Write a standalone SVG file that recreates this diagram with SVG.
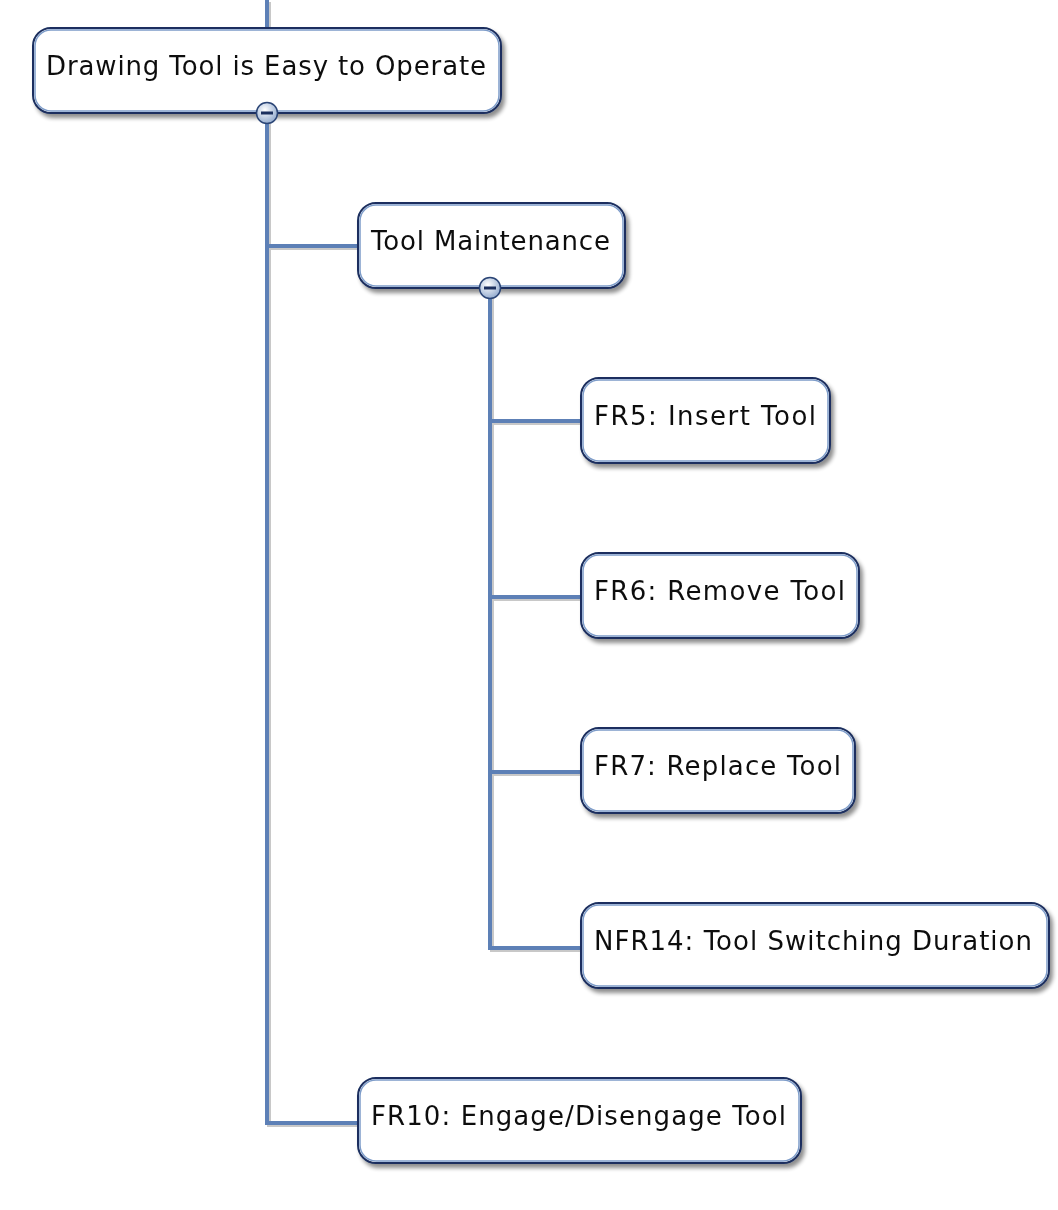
<svg xmlns="http://www.w3.org/2000/svg" width="1058" height="1210" viewBox="0 0 1058 1210">
<defs>
<filter id="sh" x="-10%" y="-20%" width="125%" height="150%">
<feGaussianBlur in="SourceAlpha" stdDeviation="2"/>
<feOffset dx="3" dy="4" result="b"/>
<feComponentTransfer><feFuncA type="linear" slope="0.45"/></feComponentTransfer>
<feMerge><feMergeNode/><feMergeNode in="SourceGraphic"/></feMerge>
</filter>
<radialGradient id="btn" cx="0.4" cy="0.35" r="0.7">
<stop offset="0" stop-color="#ffffff"/>
<stop offset="1" stop-color="#8ea7cc"/>
</radialGradient>
</defs>
<style>
.box{fill:#ffffff;stroke:#1b2f5e;stroke-width:2;}
.rim{fill:none;stroke:#7d9cc9;stroke-width:1.5;}
.t{font-family:"DejaVu Sans",Verdana,sans-serif;font-size:26px;fill:#111111;}
.ln{fill:none;stroke:#5d80b6;stroke-width:4;}
.lns{fill:none;stroke:#c8c8c8;stroke-width:4;}
.b{fill:url(#btn);stroke:#2a4475;stroke-width:1.5;}
.bm{stroke:#1b2f5e;stroke-width:3;}
</style>
<g id="connectors">
<g transform="translate(2,2)" class="lns">
<path d="M267 0V28M267 113V1123H358M267 246H358M490 288V948H581M490 421H581M490 597H581M490 772H581"/>
</g>
<path class="ln" d="M267 0V28M267 113V1123H358M267 246H358M490 288V948H581M490 421H581M490 597H581M490 772H581"/>
</g>
<g id="node-root" filter="url(#sh)">
<rect class="box" x="33" y="28" width="468" height="85" rx="18"/>
<rect class="rim" x="35" y="30" width="464" height="81" rx="16"/>
<text class="t" x="46" y="75" textLength="440" lengthAdjust="spacing">Drawing Tool is Easy to Operate</text>
</g>
<g id="btn-root"><circle class="b" cx="267" cy="113" r="10.5"/><line class="bm" x1="261" y1="113" x2="273" y2="113"/></g>
<g id="node-maint" filter="url(#sh)">
<rect class="box" x="358" y="203" width="267" height="85" rx="18"/>
<rect class="rim" x="360" y="205" width="263" height="81" rx="16"/>
<text class="t" x="371" y="250" textLength="239" lengthAdjust="spacing">Tool Maintenance</text>
</g>
<g id="btn-maint"><circle class="b" cx="490" cy="288" r="10.5"/><line class="bm" x1="484" y1="288" x2="496" y2="288"/></g>
<g id="node-fr5" filter="url(#sh)">
<rect class="box" x="581" y="378" width="249" height="85" rx="18"/>
<rect class="rim" x="583" y="380" width="245" height="81" rx="16"/>
<text class="t" x="594" y="425" textLength="222" lengthAdjust="spacing">FR5: Insert Tool</text>
</g>
<g id="node-fr6" filter="url(#sh)">
<rect class="box" x="581" y="553" width="278" height="85" rx="18"/>
<rect class="rim" x="583" y="555" width="274" height="81" rx="16"/>
<text class="t" x="594" y="600" textLength="251" lengthAdjust="spacing">FR6: Remove Tool</text>
</g>
<g id="node-fr7" filter="url(#sh)">
<rect class="box" x="581" y="728" width="274" height="85" rx="18"/>
<rect class="rim" x="583" y="730" width="270" height="81" rx="16"/>
<text class="t" x="594" y="775" textLength="247" lengthAdjust="spacing">FR7: Replace Tool</text>
</g>
<g id="node-nfr14" filter="url(#sh)">
<rect class="box" x="581" y="903" width="468" height="85" rx="18"/>
<rect class="rim" x="583" y="905" width="464" height="81" rx="16"/>
<text class="t" x="594" y="950" textLength="438" lengthAdjust="spacing">NFR14: Tool Switching Duration</text>
</g>
<g id="node-fr10" filter="url(#sh)">
<rect class="box" x="358" y="1078" width="443" height="85" rx="18"/>
<rect class="rim" x="360" y="1080" width="439" height="81" rx="16"/>
<text class="t" x="371" y="1125" textLength="415" lengthAdjust="spacing">FR10: Engage/Disengage Tool</text>
</g>
</svg>
